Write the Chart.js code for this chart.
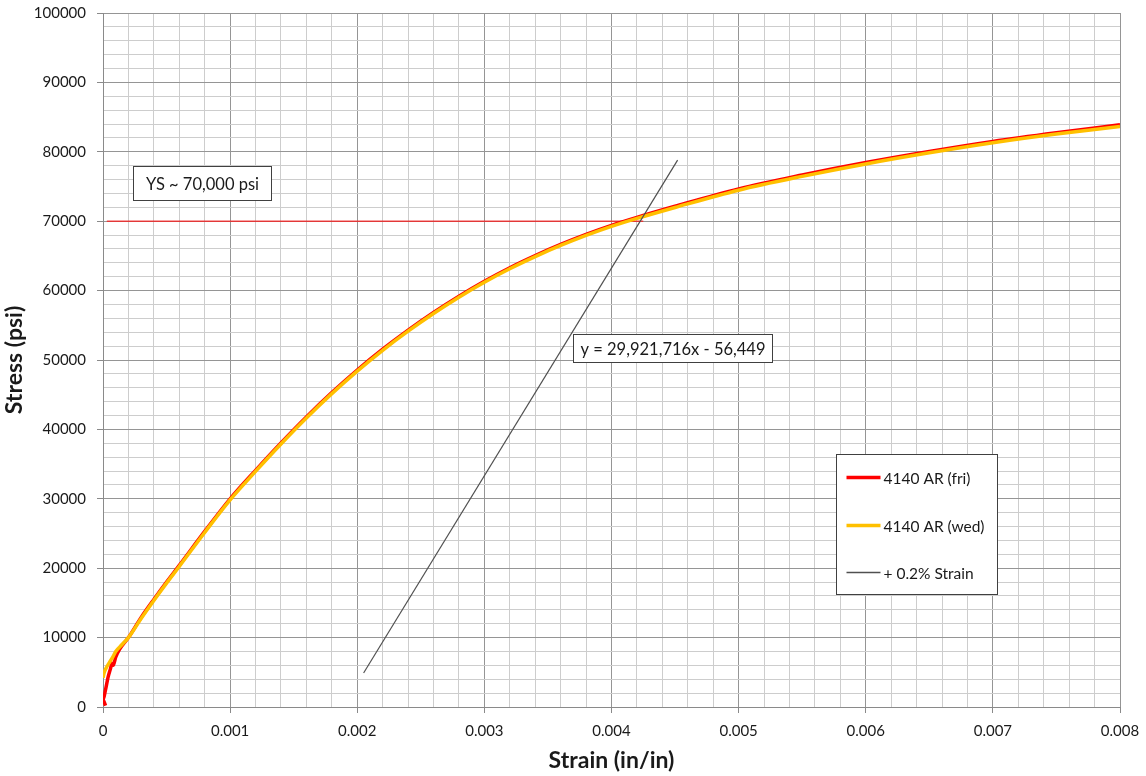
<!DOCTYPE html>
<html>
<head>
<meta charset="utf-8">
<title>4140 AR stress-strain</title>
<script src="https://cdn.jsdelivr.net/npm/chart.js@4.4.1/dist/chart.umd.min.js"></script>
<style>
    body { margin: 0; background: #fff; }
    canvas { display: block; }
</style>
</head>
<body>
<canvas id="chart" width="1146" height="776"></canvas>
<script>
// data
const strainFri = [0.00002, 0, 0.00002, 0.00004, 0.00006, 0.00007, 0.00008, 0.0001, 0.00013, 0.0002, 0.0003, 0.0004, 0.0005, 0.0006, 0.0008, 0.001, 0.0012, 0.0014, 0.0016, 0.0018, 0.002, 0.0022, 0.0024, 0.0026, 0.0028, 0.003, 0.0032, 0.0034, 0.0036, 0.0038, 0.004, 0.0042, 0.0045, 0.005, 0.0055, 0.006, 0.0065, 0.007, 0.0075, 0.008];
const stressFri = [200, 1000, 2500, 4300, 5600, 6300, 6000, 7200, 8300, 10000, 12900, 15500, 18000, 20400, 25300, 30000, 34100, 38050, 41800, 45300, 48550, 51550, 54300, 56850, 59200, 61350, 63300, 65050, 66650, 68100, 69400, 70550, 72150, 74650, 76650, 78450, 80050, 81500, 82750, 83900];

const strainWed = [0, 0.00001, 0.00003, 0.00005, 0.00008, 0.0001, 0.00015, 0.0002, 0.0003, 0.0004, 0.0005, 0.0006, 0.0008, 0.001, 0.0012, 0.0014, 0.0016, 0.0018, 0.002, 0.0022, 0.0024, 0.0026, 0.0028, 0.003, 0.0032, 0.0034, 0.0036, 0.0038, 0.004, 0.0042, 0.0045, 0.005, 0.0055, 0.006, 0.0065, 0.007, 0.0075, 0.008];
const stressWed = [4200, 5000, 5800, 6400, 7300, 8000, 9000, 10000, 12750, 15350, 17850, 20250, 25150, 29850, 33950, 37900, 41650, 45150, 48400, 51400, 54150, 56700, 59050, 61200, 63150, 64900, 66500, 67950, 69250, 70400, 71980, 74470, 76460, 78250, 79850, 81300, 82550, 83650];

// +0.2% offset line (y = 29,921,716x - 56,449) endpoints
const strainOffset = [0.00205, 0.00452];
const stressOffset = [4900, 78800];

// yield strength marker line
const strainYS = [0.00003, 0.00425];
const stressYS = [70000, 70000];

const seriesLabels = ['4140 AR (fri)', '4140 AR (wed)', '+ 0.2% Strain'];
const xMin = 0, xMax = 0.008, xStep = 0.0002;
const yMin = 0, yMax = 100000, yStep = 2000;

const FONT = 'Lato, "Open Sans", sans-serif';

function pts(xs, ys) {
    return xs.map((x, i) => ({ x: x, y: ys[i] }));
}

// text boxes + legend drawn inside the plot area
const overlayPlugin = {
    id: 'overlay',
    afterDatasetsDraw(chart) {
        const ctx = chart.ctx;
        const xs = chart.scales.x, ys = chart.scales.y;

        function textBox(text, dx, dy, w, h) {
            const left = Math.round(xs.getPixelForValue(dx)) + 0.5;
            const top = Math.round(ys.getPixelForValue(dy)) + 0.5;
            ctx.save();
            ctx.fillStyle = '#fff';
            ctx.fillRect(left, top, w, h);
            ctx.strokeStyle = '#404040';
            ctx.lineWidth = 1;
            ctx.strokeRect(left, top, w, h);
            ctx.fillStyle = '#1a1a1a';
            ctx.font = '16.5px ' + FONT;
            ctx.textAlign = 'center';
            ctx.textBaseline = 'middle';
            ctx.fillText(text, left + w / 2, top + h / 2 + 1);
            ctx.restore();
        }
        textBox('YS ~ 70,000 psi', 0.000236, 77950, 138, 34);
        textBox('y = 29,921,716x - 56,449', 0.003697, 53750, 199, 28);

        // legend box
        const lx = 836.5, ly = 454.5, lw = 161, lh = 140;
        ctx.save();
        ctx.fillStyle = '#fff';
        ctx.fillRect(lx, ly, lw, lh);
        ctx.strokeStyle = '#404040';
        ctx.lineWidth = 1;
        ctx.strokeRect(lx, ly, lw, lh);
        const rows = [23, 71, 118];
        chart.data.datasets.slice(0, 3).forEach((ds, i) => {
            const y = ly + rows[i];
            ctx.beginPath();
            ctx.strokeStyle = ds.borderColor;
            ctx.lineWidth = i < 2 ? 3.5 : 1.5;
            ctx.moveTo(lx + 10, y);
            ctx.lineTo(lx + 44, y);
            ctx.stroke();
            ctx.fillStyle = '#1a1a1a';
            ctx.font = '15.5px ' + FONT;
            ctx.textAlign = 'left';
            ctx.textBaseline = 'middle';
            ctx.fillText(ds.label, lx + 47, y + 1);
        });
        ctx.restore();
    }
};

function gridColor(ctx) {
    return ctx.index % 5 === 0 ? '#959595' : '#cdcdcd';
}
function tickColor(ctx) {
    return ctx.index % 5 === 0 ? '#8a8a8a' : 'rgba(0,0,0,0)';
}

new Chart(document.getElementById('chart'), {
    type: 'line',
    data: {
        datasets: [
            {
                label: seriesLabels[0],
                data: pts(strainFri, stressFri),
                borderColor: '#ff0000',
                borderWidth: 3.5,
                order: 2
            },
            {
                label: seriesLabels[1],
                data: pts(strainWed, stressWed),
                borderColor: '#ffc000',
                borderWidth: 3.5,
                order: 1
            },
            {
                label: seriesLabels[2],
                data: pts(strainOffset, stressOffset),
                borderColor: '#505050',
                borderWidth: 1.2,
                order: 0
            },
            {
                label: 'YS',
                data: pts(strainYS, stressYS),
                borderColor: 'rgba(240,40,40,0.85)',
                borderWidth: 1.5,
                order: 3
            }
        ]
    },
    options: {
        responsive: false,
        animation: false,
        elements: {
            point: { radius: 0, hoverRadius: 0 },
            line: { tension: 0.3, cubicInterpolationMode: 'monotone' }
        },
        layout: { padding: { top: 13, right: 26, left: 0, bottom: 0 } },
        plugins: {
            legend: { display: false },
            tooltip: { enabled: false }
        },
        scales: {
            x: {
                type: 'linear',
                min: xMin,
                max: xMax,
                afterFit(scale) {
                    scale.height = 69;
                    scale.paddingLeft = 0;
                    scale.paddingRight = 0;
                },
                ticks: {
                    stepSize: xStep,
                    autoSkip: false,
                    maxRotation: 0,
                    padding: 9,
                    color: '#1a1a1a',
                    font: { family: FONT, size: 15 },
                    callback(value, index) {
                        if (index % 5 !== 0) return '';
                        return index === 0 ? '0' : (index * xStep).toFixed(3);
                    }
                },
                grid: { color: gridColor, tickColor: tickColor, tickLength: 6 },
                border: { color: '#8a8a8a' },
                title: {
                    display: true,
                    text: 'Strain (in/in)',
                    color: '#1a1a1a',
                    font: { family: FONT, size: 23, weight: 'bold' },
                    padding: { top: 0, bottom: 2 }
                }
            },
            y: {
                min: yMin,
                max: yMax,
                afterFit(scale) {
                    scale.width = 103;
                    scale.paddingTop = 0;
                    scale.paddingBottom = 0;
                },
                ticks: {
                    stepSize: yStep,
                    autoSkip: false,
                    padding: 11,
                    color: '#1a1a1a',
                    font: { family: FONT, size: 15 },
                    callback(value, index) {
                        if (index % 5 !== 0) return '';
                        return String(index * yStep);
                    }
                },
                grid: { color: gridColor, tickColor: tickColor, tickLength: 6 },
                border: { color: '#8a8a8a' },
                title: {
                    display: true,
                    text: 'Stress (psi)',
                    color: '#1a1a1a',
                    font: { family: FONT, size: 23, weight: 'bold' },
                    padding: { top: 1, bottom: 0 }
                }
            }
        }
    },
    plugins: [overlayPlugin]
});
</script>
</body>
</html>
